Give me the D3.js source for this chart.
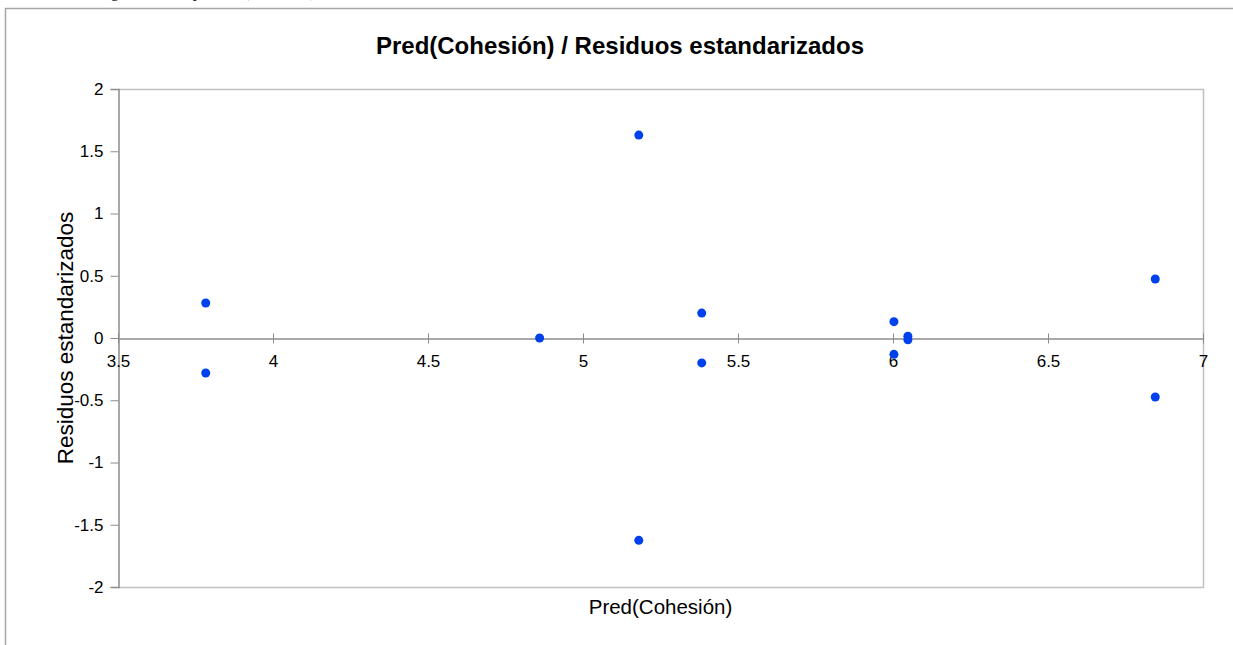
<!DOCTYPE html>
<html>
<head>
<meta charset="utf-8">
<script src="https://cdn.jsdelivr.net/npm/d3@7"></script>
<style>
  body { margin: 0; background: #fff; }
  svg { display: block; font-family: "Liberation Sans", Arial, sans-serif; }
</style>
</head>
<body>
<div id="graf"></div>
<script>
// Datos: predicción de cohesión vs residuos estandarizados
const predCohesion = [3.783, 3.783, 4.86, 5.18, 5.18, 5.383, 5.383, 6.003, 6.003, 6.048, 6.048, 6.846, 6.846]
const residuos = [0.281, -0.281, 0, 1.63, -1.625, 0.2, -0.2, 0.131, -0.131, 0.015, -0.015, 0.474, -0.474]
const ticksX = [3.5, 4, 4.5, 5, 5.5, 6, 6.5, 7]
const ticksY = [-2, -1.5, -1, -0.5, 0, 0.5, 1, 1.5, 2]

const anchoTotal = 1233
const altoTotal = 645
const m = { left: 118, right: 1203, top: 89, bottom: 587 }

const svg = d3.select("#graf")
  .append("svg")
  .attr("width", anchoTotal)
  .attr("height", altoTotal)

// texto cortado arriba (pie del documento)
svg.append("text")
  .attr("x", 88)
  .attr("y", -3)
  .attr("font-family", "Liberation Serif, serif")
  .attr("font-size", 16)
  .attr("fill", "#222")
  .text("Diagrama de dispersión (Cohesión)")

// marco del gráfico
svg.append("path")
  .attr("d", `M${5.5},${altoTotal} V${8.5} H${anchoTotal}`)
  .attr("fill", "none")
  .attr("stroke", "#a6a6a6")
  .attr("stroke-width", 1.5)

const x = d3.scaleLinear().domain([3.5, 7]).range([m.left, m.right])
const y = d3.scaleLinear().domain([-2, 2]).range([m.bottom, m.top])
const fmt = d => String(d)

// borde del área de trazado
svg.append("path")
  .attr("d", `M${m.left},${m.top + 0.5} H${m.right + 0.5} V${m.bottom + 0.5} H${m.left}`)
  .attr("fill", "none")
  .attr("stroke", "#c0c0c0")
  .attr("stroke-width", 1.5)

// eje Y
const ejeY = svg.append("g")
  .attr("transform", `translate(${m.left + 0.5},0)`)
  .call(d3.axisLeft(y).tickValues(ticksY).tickSize(8).tickPadding(7).tickFormat(fmt))
ejeY.select(".domain").attr("stroke", "#8c8c8c").attr("stroke-width", 1.5)
ejeY.selectAll(".tick line").attr("stroke", "#8c8c8c")
ejeY.selectAll("text").attr("font-size", 17).attr("fill", "#000").attr("font-family", "Liberation Sans, Arial, sans-serif")

// eje X cruzando en cero
const ejeX = svg.append("g")
  .attr("transform", `translate(0,${y(0) + 0.5})`)
  .call(d3.axisBottom(x).tickValues(ticksX).tickSize(0).tickPadding(16).tickFormat(fmt))
ejeX.select(".domain").attr("stroke", "#8c8c8c").attr("stroke-width", 1.5)
ejeX.selectAll(".tick").append("line")
  .attr("y1", -5).attr("y2", 5)
  .attr("stroke", "#8c8c8c")
ejeX.selectAll("text").attr("font-size", 17).attr("fill", "#000").attr("font-family", "Liberation Sans, Arial, sans-serif")

// puntos
svg.append("g")
  .selectAll("circle")
  .data(predCohesion.map((d, i) => ({ px: d, r: residuos[i] })))
  .enter().append("circle")
  .attr("cx", d => x(d.px))
  .attr("cy", d => y(d.r))
  .attr("r", 4.5)
  .attr("fill", "#0041ee")

// títulos
svg.append("text")
  .attr("x", 620)
  .attr("y", 54)
  .attr("text-anchor", "middle")
  .attr("font-size", 24)
  .attr("font-weight", "bold")
  .text("Pred(Cohesión) / Residuos estandarizados")

svg.append("text")
  .attr("x", (m.left + m.right) / 2)
  .attr("y", 614)
  .attr("text-anchor", "middle")
  .attr("font-size", 20.5)
  .text("Pred(Cohesión)")

svg.append("text")
  .attr("transform", `translate(73,${y(0)}) rotate(-90)`)
  .attr("text-anchor", "middle")
  .attr("font-size", 22.5)
  .text("Residuos estandarizados")
</script>
</body>
</html>
